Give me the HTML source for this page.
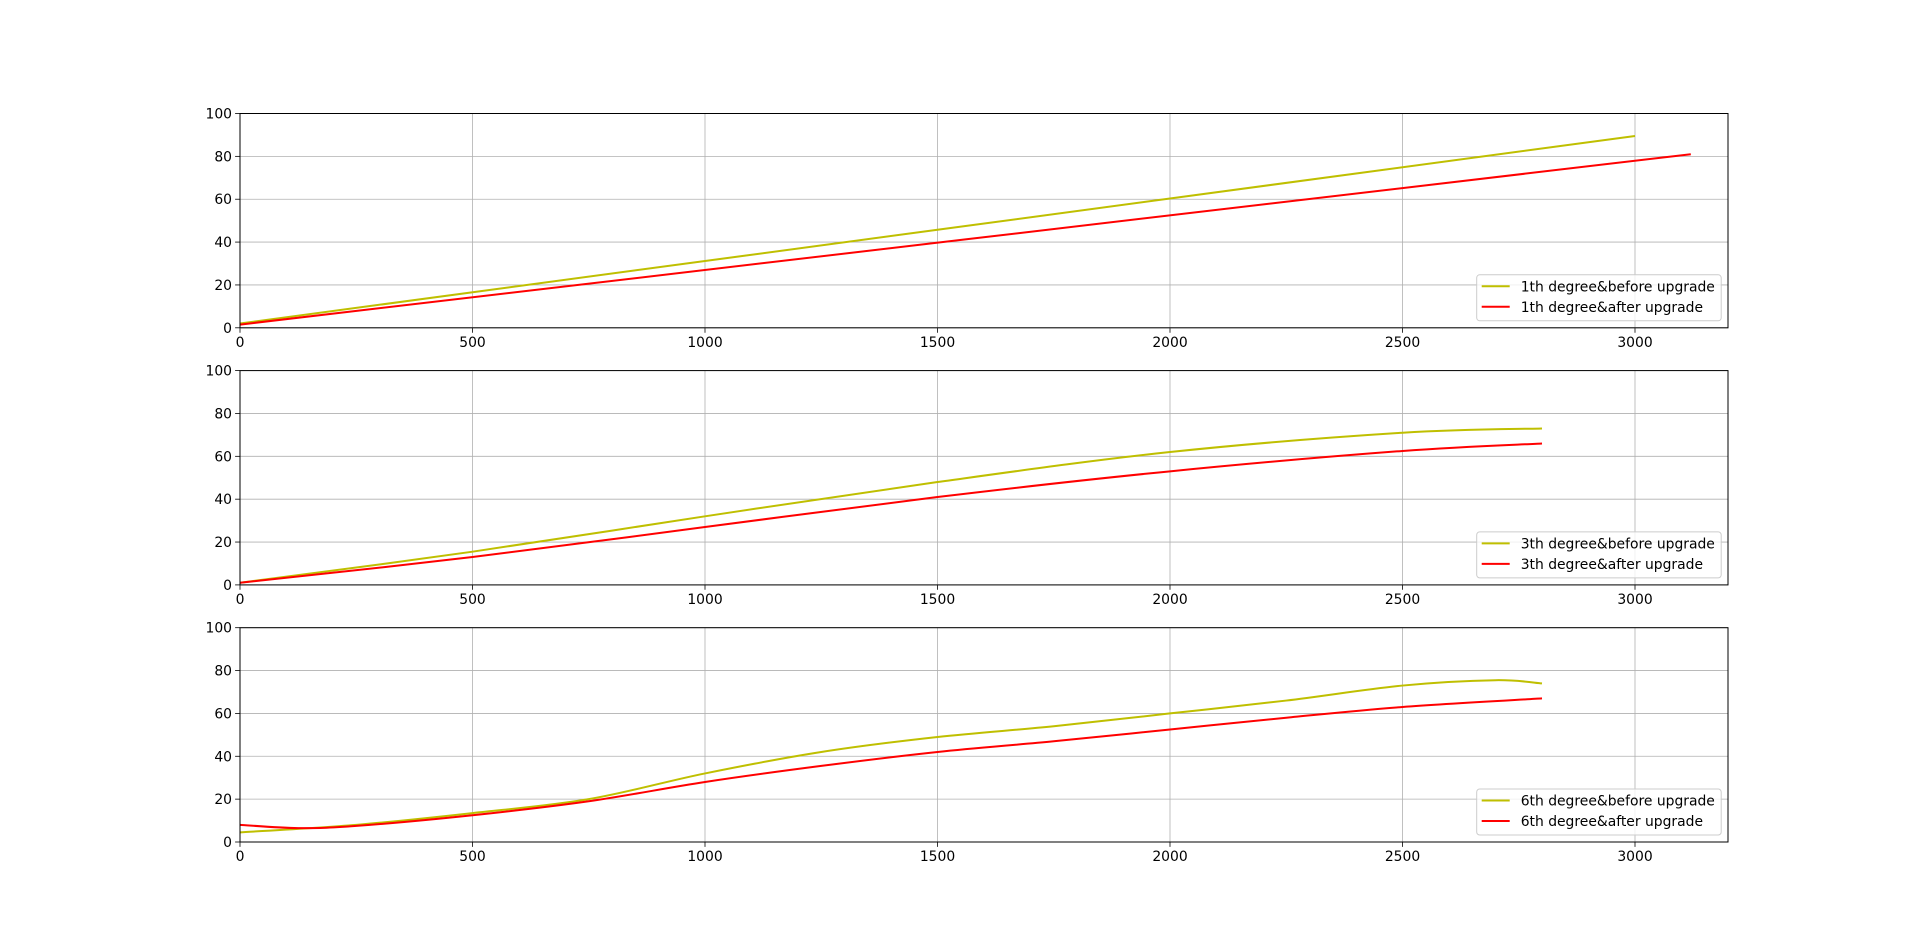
<!DOCTYPE html>
<html><head><meta charset="utf-8"><style>
html,body{margin:0;padding:0;background:#fff;}
svg{display:block;font-family:"DejaVu Sans","Liberation Sans",sans-serif;}
</style></head><body>
<svg id="fig" width="1920" height="946" viewBox="0 0 1920 946" xmlns="http://www.w3.org/2000/svg"></svg>
<script>
const xTicks=[0,500,1000,1500,2000,2500,3000];
const yTicks=[0,20,40,60,80,100];
const p1BeforeX=[0,3000];
const p1BeforeY=[2,89.5];
const p1AfterX=[0,3120];
const p1AfterY=[1.5,81];
const p2BeforeX=[0,500,1000,1500,2000,2500,2800];
const p2BeforeY=[1,15.5,32,48,62,71,73];
const p2AfterX=[0,500,1000,1500,2000,2500,2800];
const p2AfterY=[1,13,27,41,53,62.5,66];
const p3BeforeX=[0,250,500,750,1000,1250,1500,1750,2000,2250,2500,2700,2800];
const p3BeforeY=[4.5,8,13.5,20,32,42,49,54,60,66,73,75.5,74];
const p3AfterX=[0,125,250,500,750,1000,1250,1500,1750,2000,2250,2500,2800];
const p3AfterY=[8,6.5,7.5,12.5,19,28,35.5,42,47,52.5,58,63,67];
const panels=[
 {top:113.5,deg:'1th',b:[p1BeforeX,p1BeforeY],a:[p1AfterX,p1AfterY]},
 {top:370.6,deg:'3th',b:[p2BeforeX,p2BeforeY],a:[p2AfterX,p2AfterY]},
 {top:627.7,deg:'6th',b:[p3BeforeX,p3BeforeY],a:[p3AfterX,p3AfterY]}
];
const L=240,R=1728,H=214.3,XMAX=3200,YMAX=100;
const NS='http://www.w3.org/2000/svg';
const svg=document.getElementById('fig');
function mk(tag,attrs,parent){const e=document.createElementNS(NS,tag);for(const k in attrs)e.setAttribute(k,attrs[k]);(parent||svg).appendChild(e);return e;}
function path(xs,ys,sx,sy){
 const P=xs.map((x,i)=>[sx(x),sy(ys[i])]);
 let d='M'+P[0][0]+','+P[0][1];
 for(let i=0;i<P.length-1;i++){
  const p0=P[Math.max(0,i-1)],p1=P[i],p2=P[i+1],p3=P[Math.min(P.length-1,i+2)];
  const c1=[p1[0]+(p2[0]-p0[0])/6,p1[1]+(p2[1]-p0[1])/6];
  const c2=[p2[0]-(p3[0]-p1[0])/6,p2[1]-(p3[1]-p1[1])/6];
  d+=' C'+c1[0]+','+c1[1]+' '+c2[0]+','+c2[1]+' '+p2[0]+','+p2[1];
 }
 return d;
}
panels.forEach((p,pi)=>{
 const T=p.top,B=T+H;
 const sx=v=>L+(R-L)*v/XMAX, sy=v=>B-H*v/YMAX;
 const g=mk('g',{});
 
 
 xTicks.forEach(t=>{
  const l=mk('line',{x1:sx(t),x2:sx(t),y1:T,y2:B,stroke:'#b0b0b0','stroke-width':0.8},g);
  
  mk('line',{x1:sx(t),x2:sx(t),y1:B,y2:B+4.9,stroke:'#000','stroke-width':0.8},g);
  const tx=mk('text',{x:sx(t),y:B+19,'font-size':'13.9','text-anchor':'middle',fill:'#000'},g);
  tx.textContent=t;
  
 });
 yTicks.forEach(t=>{
  const l=mk('line',{x1:L,x2:R,y1:sy(t),y2:sy(t),stroke:'#b0b0b0','stroke-width':0.8},g);
  
  mk('line',{x1:L-4.9,x2:L,y1:sy(t),y2:sy(t),stroke:'#000','stroke-width':0.8},g);
  const tx=mk('text',{x:L-8,y:sy(t)+5,'font-size':'13.9','text-anchor':'end',fill:'#000'},g);
  tx.textContent=t;
  
 });
 const lb=mk('path',{d:path(p.b[0],p.b[1],sx,sy),fill:'none',stroke:'#bfbf00','stroke-width':2},g);
 
 const la=mk('path',{d:path(p.a[0],p.a[1],sx,sy),fill:'none',stroke:'#ff0000','stroke-width':2},g);
 
 const fr=mk('rect',{x:L,y:T,width:R-L,height:H,fill:'none',stroke:'#000','stroke-width':1},g);
 
 const lg=mk('g',{},g);
 
 const lx=1476.7,ly=B-53;
 mk('rect',{x:lx,y:ly,width:244.5,height:46,rx:3,fill:'#fff','fill-opacity':0.8,stroke:'#cccccc','stroke-width':1},lg);
 [['before','#bfbf00'],['after','#ff0000']].forEach((e,i)=>{
  const yy=ly+11.5+i*20.5;
  const ee=mk('g',{},lg);
  
  mk('line',{x1:lx+5,x2:lx+33,y1:yy,y2:yy,stroke:e[1],'stroke-width':2},ee);
  const tx=mk('text',{x:lx+44,y:yy+5,'font-size':'13.9',fill:'#000'},ee);
  tx.textContent=p.deg+' degree&'+e[0]+' upgrade';
 });
});
</script>
</body></html>
